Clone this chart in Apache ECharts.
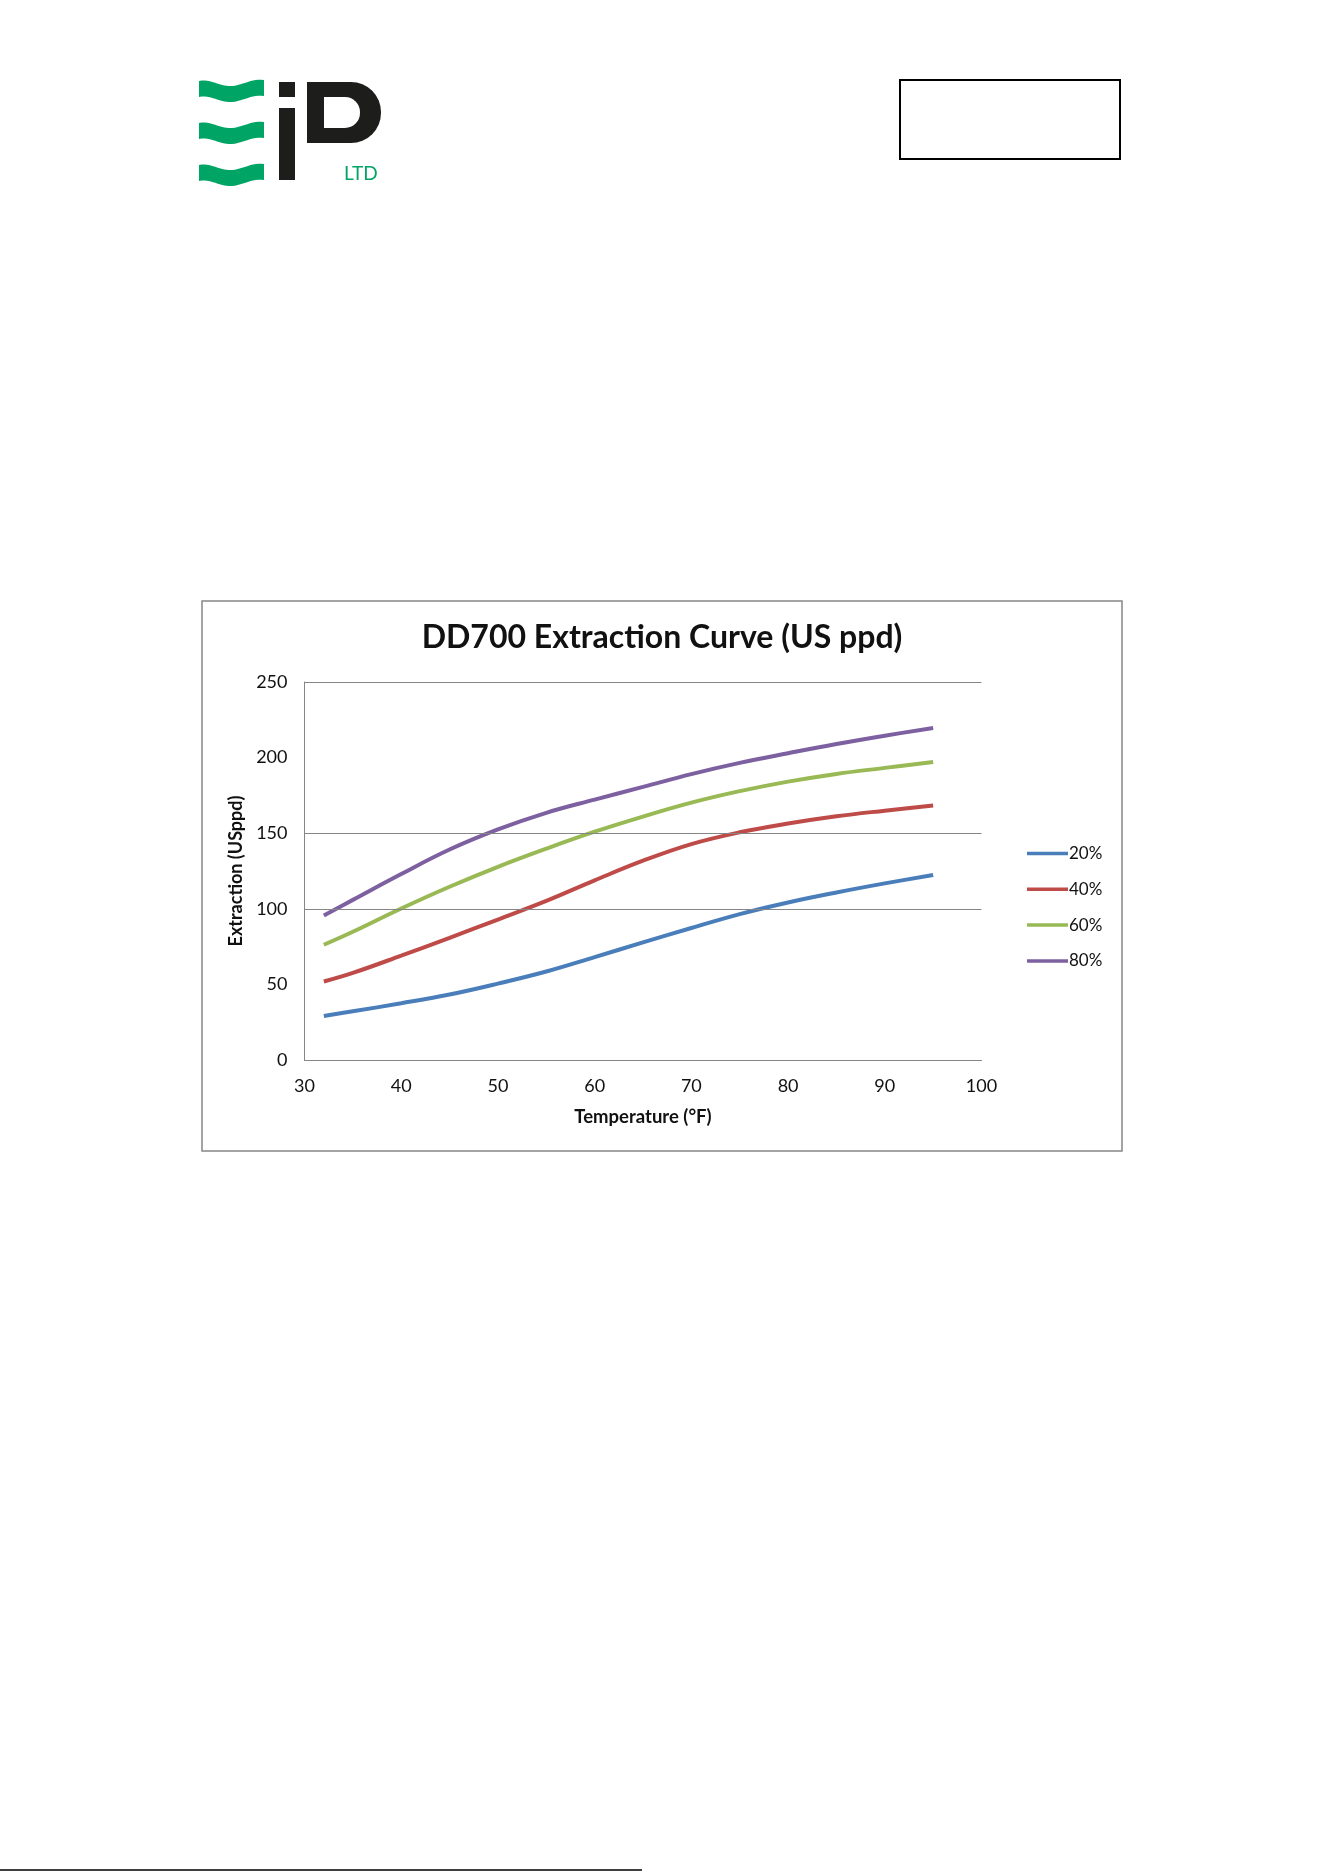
<!DOCTYPE html>
<html>
<head>
<meta charset="utf-8">
<script src="https://cdn.jsdelivr.net/npm/echarts@6/dist/echarts.min.js"></script>
<style>
html,body{margin:0;padding:0;background:#fff;}
#c{width:1323px;height:1872px;}
</style>
</head>
<body>
<div id="c"></div>
<script>
const chartTitle = 'DD700 Extraction Curve (US ppd)';
const xAxisName = 'Temperature (°F)';
const yAxisName = 'Extraction (USppd)';
const temperatures = [32, 35, 40, 45, 50, 55, 60, 65, 70, 75, 80, 85, 90, 95];
const seriesNames = ['20%', '40%', '60%', '80%'];
const s20 = [29.1, 32.2, 37.5, 43.3, 50.5, 58.5, 68, 77.8, 87.3, 96.5, 104.2, 110.8, 116.8, 122.4];
const s40 = [51.9, 57.6, 69, 80.8, 92.9, 105.2, 118.8, 131.8, 142.8, 150.6, 156.4, 161.2, 164.9, 168.3];
const s60 = [76.2, 84.8, 100.2, 114.6, 127.8, 139.8, 151, 161, 170.2, 177.8, 184.1, 189.2, 193.2, 197.1];
const s80 = [95.6, 105.9, 123, 139.2, 152.5, 163.5, 172.2, 180.6, 189.1, 196.5, 202.9, 209, 214.5, 219.6];
const gridValues = [100, 150, 250];
const colors = ['#4a7ebb', '#be4b48', '#98b954', '#7d60a0'];

const allSeries = [s20, s40, s60, s80];
const FONT = 'Lato, "Open Sans", sans-serif';
const GREEN = '#00a566';
const INK = '#1d1d1b';

function bez(p0, p1, p2, p3, n) {
  const out = [];
  for (let k = 0; k <= n; k++) {
    const t = k / n, u = 1 - t;
    out.push([
      u*u*u*p0[0] + 3*u*u*t*p1[0] + 3*u*t*t*p2[0] + t*t*t*p3[0],
      u*u*u*p0[1] + 3*u*u*t*p1[1] + 3*u*t*t*p2[1] + t*t*t*p3[1]
    ]);
  }
  return out;
}
function wavePoints(oy) {
  const top = bez([199,81+oy],[210,78+oy],[220,87+oy],[232,86+oy],12)
    .concat(bez([232,86+oy],[244,85+oy],[252,78+oy],[264,80+oy],12));
  const bot = bez([264,96+oy],[252,94+oy],[244,101+oy],[232,102+oy],12)
    .concat(bez([232,102+oy],[220,103+oy],[210,94+oy],[199,97+oy],12));
  return top.concat(bot);
}

const chart = echarts.init(document.getElementById('c'), null, {renderer: 'canvas'});
const option = {
  backgroundColor: '#ffffff',
  animation: false,
  title: {
    text: chartTitle,
    left: 657, textAlign: 'center', top: 617,
    textStyle: {fontFamily: FONT, fontWeight: 'bold', fontSize: 32, color: '#111'}
  },
  legend: {
    orient: 'vertical',
    left: 1027, top: 845,
    padding: 0,
    icon: 'rect',
    itemWidth: 41, itemHeight: 3.5,
    itemGap: 18.8,
    data: seriesNames,
    textStyle: {fontFamily: FONT, fontSize: 17, color: '#111', lineHeight: 17, padding: [0, 0, 0, -4]}
  },
  grid: {left: 304.5, right: 341.5, top: 682, bottom: 812, containLabel: false},
  xAxis: {
    type: 'value', min: 30, max: 100, interval: 10,
    name: xAxisName, nameLocation: 'middle', nameGap: 48,
    nameTextStyle: {fontFamily: FONT, fontWeight: 'bold', fontSize: 18.5, color: '#111'},
    axisLine: {show: true, lineStyle: {color: '#868686', width: 1}},
    axisTick: {show: false},
    splitLine: {show: false},
    axisLabel: {fontFamily: FONT, fontSize: 18, color: '#111', margin: 17}
  },
  yAxis: {
    type: 'value', min: 0, max: 250, interval: 50,
    name: yAxisName, nameLocation: 'middle', nameGap: 53,
    nameTextStyle: {fontFamily: FONT, fontWeight: 'bold', fontSize: 18, color: '#111'},
    axisLine: {show: true, lineStyle: {color: '#868686', width: 1}},
    axisTick: {show: false},
    splitLine: {show: false},
    axisLabel: {fontFamily: FONT, fontSize: 18, color: '#111', margin: 17}
  },
  series: allSeries.map((arr, i) => {
    const s = {
      name: seriesNames[i],
      type: 'line',
      smooth: 0.4,
      showSymbol: false,
      symbol: 'none',
      z: 3,
      data: temperatures.map((t, j) => [t, arr[j]]),
      lineStyle: {color: colors[i], width: 4},
      itemStyle: {color: colors[i]}
    };
    if (i === 0) {
      s.markLine = {
        silent: true, symbol: ['none', 'none'], label: {show: false},
        lineStyle: {color: '#868686', width: 1, type: 'solid'},
        data: gridValues.map(v => ({yAxis: v}))
      };
    }
    return s;
  }),
  graphic: [
    {type: 'polygon', shape: {points: wavePoints(0)}, style: {fill: GREEN}},
    {type: 'polygon', shape: {points: wavePoints(42)}, style: {fill: GREEN}},
    {type: 'polygon', shape: {points: wavePoints(84)}, style: {fill: GREEN}},
    {type: 'rect', shape: {x: 279, y: 82, width: 16, height: 15}, style: {fill: INK}},
    {type: 'rect', shape: {x: 279, y: 108, width: 16, height: 72}, style: {fill: INK}},
    {type: 'rect', shape: {x: 307, y: 82, width: 74, height: 61, r: [0, 30, 30, 0]}, style: {fill: INK}},
    {type: 'rect', shape: {x: 324, y: 97, width: 36, height: 31, r: [0, 15, 15, 0]}, style: {fill: '#ffffff'}},
    {type: 'text', x: 344, y: 164, style: {text: 'LTD', fill: GREEN, font: '19px ' + FONT}},
    {type: 'rect', shape: {x: 900, y: 80, width: 220, height: 79}, style: {fill: 'none', stroke: '#000', lineWidth: 2}},
    {type: 'rect', shape: {x: 202, y: 601, width: 920, height: 550}, style: {fill: 'none', stroke: '#868686', lineWidth: 1.5}},
    {type: 'line', shape: {x1: 0, y1: 1870, x2: 642, y2: 1870}, style: {stroke: '#000', lineWidth: 1.5}}
  ]
};
chart.setOption(option);
</script>
</body>
</html>
